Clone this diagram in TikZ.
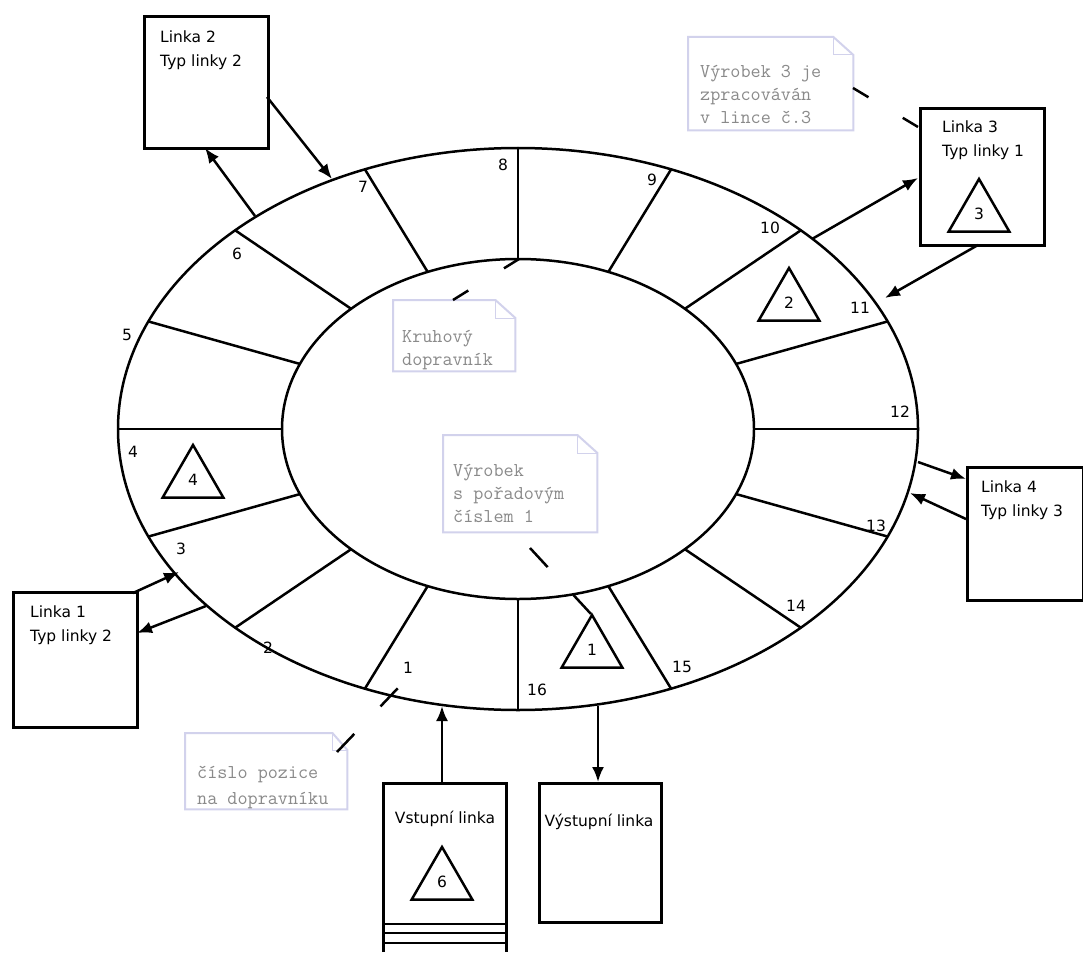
\documentclass[tikz,border=0pt]{standalone}
\usepackage{fontspec}
\setmainfont{DejaVu Sans}
\usetikzlibrary{arrows.meta,shapes.geometric}
\definecolor{noteline}{HTML}{D2D2EC}
\definecolor{notetext}{HTML}{8A8A8A}
\begin{document}
\begin{tikzpicture}[x=1pt,y=-1pt,
  ringst/.style={line width=2.5pt},
  boxst/.style={draw, line width=3pt, inner sep=0pt, anchor=north west},
  lbl/.style={inner sep=0pt, anchor=north west, align=left, font=\fontsize{15.5}{24}\selectfont},
  num/.style={inner sep=0pt, font=\fontsize{15.5}{18}\selectfont},
  tri/.style={draw, regular polygon, regular polygon sides=3, minimum size=70pt, inner sep=0pt, line width=2.5pt, font=\fontsize{15.5}{18}\selectfont},
  arr/.style={line width=2.5pt, -{Latex[length=15pt,width=12pt]}},
  dashln/.style={line width=2.5pt},
  notebody/.style={inner sep=0pt, anchor=north west},
  noteedge/.style={draw=noteline, line width=2pt, line join=miter},
  notefold/.style={draw=noteline, line width=1pt},
  ntext/.style={inner sep=0pt, anchor=north west, align=left, text=notetext, font=\ttfamily\fontsize{19.6}{23}\selectfont}
]
\useasboundingbox (0,0) rectangle (1083,952);
\fill[white] (0,0) rectangle (1083,952);

% ring
\draw[ringst] (518,429) ellipse [x radius=400pt, y radius=281pt];
\draw[ringst] (518,429) ellipse [x radius=236pt, y radius=170pt];
\foreach \i in {0,...,15} {
  \draw[ringst] ({518+236*cos(22.5*\i)},{429-170*sin(22.5*\i)}) -- ({518+400*cos(22.5*\i)},{429-281*sin(22.5*\i)});
}

% position numbers
\node[num] (p1) at (408,668) {1};
\node[num] (p2) at (268,648) {2};
\node[num] (p3) at (181,549) {3};
\node[num] (p4) at (133,452) {4};
\node[num] (p5) at (127,335) {5};
\node[num] (p6) at (237,254) {6};
\node[num] (p7) at (363,187) {7};
\node[num] (p8) at (503,165) {8};
\node[num] (p9) at (652,180) {9};
\node[num] (p10) at (770,228) {10};
\node[num] (p11) at (860,308) {11};
\node[num] (p12) at (900,412) {12};
\node[num] (p13) at (876,526) {13};
\node[num] (p14) at (796,606) {14};
\node[num] (p15) at (682,667) {15};
\node[num] (p16) at (537,690) {16};

% products on the ring
\node[tri] (t1) at (592,650) {1};
\node[tri] (t2) at (789,303) {2};
\node[tri] (t4) at (193,480) {4};

% line boxes
\node[boxst, minimum width=124pt, minimum height=132pt] (L2) at (143,15) {};
\node[lbl] (L2t) at (160,31) {Linka 2\\Typ linky 2};

\node[boxst, minimum width=124pt, minimum height=137pt] (L3) at (919,107) {};
\node[lbl] (L3t) at (942,121) {Linka 3\\Typ linky 1};
\node[tri] (t3) at (979,214) {3};

\node[boxst, minimum width=116pt, minimum height=133pt] (L4) at (966,466) {};
\node[lbl] (L4t) at (981,481) {Linka 4\\Typ linky 3};

\node[boxst, minimum width=124pt, minimum height=135pt] (L1) at (12,591) {};
\node[lbl] (L1t) at (30,606) {Linka 1\\Typ linky 2};

\node[boxst, minimum width=122pt, minimum height=139pt] (OUT) at (538,782) {};
\node[num] (OUTt) at (599,822) {Výstupní linka};

% input line (open at the bottom)
\coordinate (INa) at (383,952);
\coordinate (INb) at (383,783);
\coordinate (INc) at (506,783);
\coordinate (INd) at (506,952);
\draw[line width=3pt] (INa) -- (INb) -- (INc) -- (INd);
\foreach \yy in {924,933,943} { \draw[line width=2.5pt] (383,\yy) -- (506,\yy); }
\node[num] (INt) at (445,819) {Vstupní linka};
\node[tri] (t6) at (442,882) {6};

% connectors
\coordinate (a1s) at (267,97);  \coordinate (a1e) at (332,179);
\coordinate (a2s) at (255,216); \coordinate (a2e) at (205,148);
\coordinate (a3s) at (812,239); \coordinate (a3e) at (918,178);
\coordinate (a4s) at (978,245); \coordinate (a4e) at (885,298);
\coordinate (a5s) at (918,462); \coordinate (a5e) at (966,479);
\coordinate (a6s) at (966,519); \coordinate (a6e) at (910,493);
\coordinate (a7s) at (133,593); \coordinate (a7e) at (179,572);
\coordinate (a8s) at (206,606); \coordinate (a8e) at (137,633);
\coordinate (a9s) at (442,783); \coordinate (a9e) at (442,706);
\coordinate (a10s) at (598,706); \coordinate (a10e) at (598,782);
\foreach \a in {1,...,10} { \draw[arr] (a\a s) -- (a\a e); }

% notes
\newcommand{\notepath}[3]{% name, fold w, fold h
  \draw[noteedge] (#1.north west) -- ([xshift=-#2]#1.north east) -- ([yshift=-#3]#1.north east) -- (#1.south east) -- (#1.south west) -- cycle;
  \draw[notefold] ([xshift=-#2]#1.north east) -- ([xshift=-#2,yshift=-#3]#1.north east) -- ([yshift=-#3]#1.north east);
}
\node[notebody, minimum width=165pt, minimum height=93pt] (N1) at (688,37) {};
\notepath{N1}{20pt}{18pt}
\node[ntext] (N1t) at (700,65) {Výrobek 3 je\\zpracováván\\v lince č.3};

\node[notebody, minimum width=122pt, minimum height=71pt] (N2) at (393,300) {};
\notepath{N2}{20pt}{18pt}
\node[ntext] (N2t) at (402,330) {Kruhový\\dopravník};

\node[notebody, minimum width=154pt, minimum height=97pt] (N3) at (443,435) {};
\notepath{N3}{20pt}{18pt}
\node[ntext] (N3t) at (453,464) {Výrobek\\s pořadovým\\číslem 1};

\node[notebody, minimum width=162pt, minimum height=76pt] (N4) at (185,733) {};
\notepath{N4}{15pt}{17pt}
\node[ntext, font=\ttfamily\fontsize{19.6}{26}\selectfont] (N4t) at (197,766) {číslo pozice\\na dopravníku};

% dashed note connectors
\coordinate (d1s) at (853,88);  \coordinate (d1e) at (918,127);
\coordinate (d2s) at (453,300); \coordinate (d2e) at (519,259);
\coordinate (d3s) at (530,548); \coordinate (d3e) at (591,614);
\coordinate (d4s) at (337,752); \coordinate (d4e) at (398,688);
\draw[dashln, dash pattern=on 18pt off 40pt] (d1s) -- (d1e);
\draw[dashln, dash pattern=on 18pt off 42pt] (d2s) -- (d2e);
\draw[dashln, dash pattern=on 26pt off 38pt] (d3s) -- (d3e);
\draw[dashln, dash pattern=on 25pt off 38pt] (d4s) -- (d4e);
\end{tikzpicture}
\end{document}
